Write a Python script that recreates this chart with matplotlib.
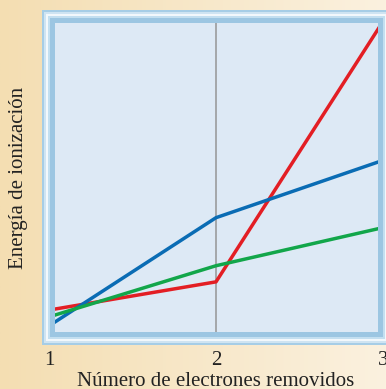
import numpy as np
import matplotlib.pyplot as plt
from matplotlib.patches import Rectangle
from matplotlib.colors import LinearSegmentedColormap

# data (energy in arbitrary units, 0-100 = plot height)
electrons = [1, 2, 3]
red_energy = [7.4, 16.5, 100.5]
blue_energy = [2.3, 37.2, 55.7]
green_energy = [5.2, 21.7, 34.0]
tick_labels = ["1", "2", "3"]

W, H, DPI = 386, 389, 100
plt.rcParams['font.family'] = ['Liberation Serif', 'DejaVu Serif']
fig = plt.figure(figsize=(W / DPI, H / DPI), dpi=DPI)

# beige gradient background
bg = fig.add_axes([0, 0, 1, 1], zorder=-10)
grad = np.linspace(0, 1, 256).reshape(1, -1)
cmap = LinearSegmentedColormap.from_list("bg", ["#f4deb2", "#fbf1df"])
bg.imshow(grad, aspect="auto", cmap=cmap, extent=[0, 1, 0, 1])
bg.set_axis_off()

# main axes: x=1 at px 49, x=3 at px 383; y spans inner panel
ax = fig.add_axes([49 / W, (H - 333) / H, (383 - 49) / W, (333 - 23) / H])
ax.set_facecolor("#dde9f5")
ax.set_xlim(1, 3)
ax.set_ylim(0, 100)

ax.axvline(2, color="#959595", lw=1.1, zorder=1)
ax.plot(electrons, red_energy, color="#e31e24", lw=2.5, zorder=3)
ax.plot(electrons, blue_energy, color="#0a6cb4", lw=2.5, zorder=3)
ax.plot(electrons, green_energy, color="#12a64a", lw=2.5, zorder=3)

ax.set_xticks(electrons)
ax.set_xticklabels(tick_labels, fontsize=15, color="#222222")
ax.tick_params(axis="x", length=0, pad=13)
ax.set_yticks([])
for s in ax.spines.values():
    s.set_visible(False)

# overlay axes in pixel coordinates for the layered blue frame
ov = fig.add_axes([0, 0, 1, 1], zorder=10)
ov.set_xlim(0, W)
ov.set_ylim(H, 0)
ov.set_axis_off()
ov.patch.set_alpha(0)

ox0, oy0, ox1, oy1 = 42, 10, 391, 345
bands = [(0, 2, "#a6cde6"), (2, 4, "#cfe4f2"), (4, 6, "#f2f8fc"),
         (6, 8, "#c3dff0"), (8, 13, "#9cc6e2")]
for a, b, col in bands:
    # four filled strips per band
    ov.add_patch(Rectangle((ox0 + a, oy0 + a), ox1 - ox0 - 2 * a, b - a,
                           color=col, lw=0))
    ov.add_patch(Rectangle((ox0 + a, oy1 - b), ox1 - ox0 - 2 * a, b - a,
                           color=col, lw=0))
    ov.add_patch(Rectangle((ox0 + a, oy0 + a), b - a, oy1 - oy0 - 2 * a,
                           color=col, lw=0))
    ov.add_patch(Rectangle((ox1 - b, oy0 + a), b - a, oy1 - oy0 - 2 * a,
                           color=col, lw=0))

fig.text(19 / W, 1 - 178 / H, "Energía de ionización", rotation=90,
         ha="center", va="center", fontsize=15, color="#222222")
fig.text(216 / W, 1 - 381 / H, "Número de electrones removidos",
         ha="center", va="center", fontsize=15, color="#222222")

fig.savefig("out.png", dpi=DPI)
